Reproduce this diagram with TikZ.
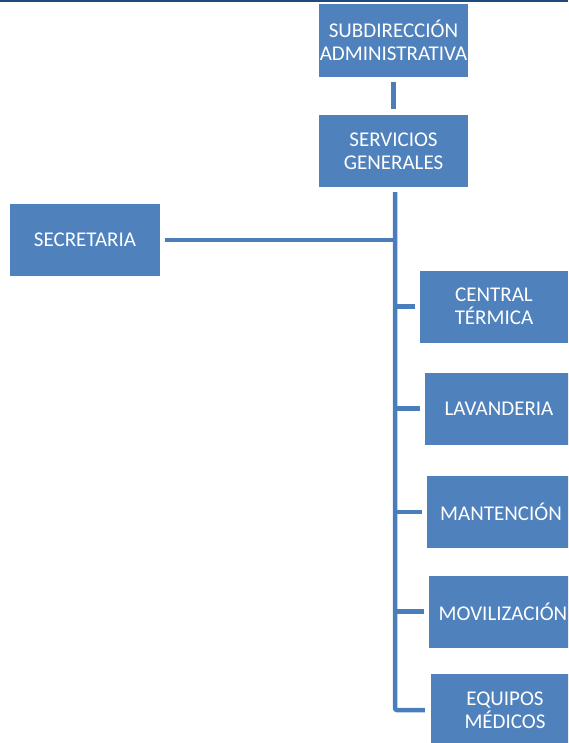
\documentclass[tikz,border=0pt]{standalone}
\usepackage{fontspec}
\setmainfont{Carlito}
\usepackage{tikz}
\usetikzlibrary{positioning,calc}
\definecolor{boxblue}{HTML}{4F81BD}
\definecolor{lineblue}{HTML}{4A7EBB}
\definecolor{topbar}{HTML}{1F4A7C}

\begin{document}
\begin{tikzpicture}[x=1pt,y=-1pt,
  unit/.style={fill=boxblue,draw=none,text=white,align=center,inner sep=0pt,
    minimum width=148pt,minimum height=72pt,
    font=\fontsize{21}{23}\selectfont},
  link/.style={draw=lineblue,line width=4.5pt}]
\useasboundingbox (0,0) rectangle (568,743);
\clip (0,0) rectangle (568,743);
\fill[topbar] (0,0) rectangle (568,2.5);
% boxes
\node[unit,minimum width=149pt,minimum height=73pt] (subdir) at (393.5,40.5) {SUBDIRECCIÓN\\ADMINISTRATIVA};
\node[unit,minimum width=149pt] (serv) at (393.5,151) {SERVICIOS\\GENERALES};
\node[unit,minimum width=150pt] (secre) at (85,240) {SECRETARIA};
\node[unit] (central) at (494,306.5) {CENTRAL\\TÉRMICA};
\node[unit] (lava) at (499,408.5) {LAVANDERIA};
\node[unit] (mant) at (501,512) {MANTENCIÓN};
\node[unit] (movil) at (503,611.5) {MOVILIZACIÓN};
\node[unit] (equipos) at (505,710) {EQUIPOS\\MÉDICOS};
% connectors
\draw[link,line cap=butt] ([yshift=-5pt]subdir.south) -- ([yshift=6pt]serv.north);
\coordinate (trunk) at ([xshift=1.5pt,yshift=-5pt]serv.south);
\draw[link,rounded corners=2pt] (trunk) |- ([xshift=-6pt]equipos.west);
\draw[link] (trunk |- secre.east) -- ([xshift=5pt]secre.east);
\draw[link] (trunk |- central.west) -- ([xshift=-5pt]central.west);
\draw[link] (trunk |- lava.west) -- ([xshift=-5pt]lava.west);
\draw[link] (trunk |- mant.west) -- ([xshift=-5pt]mant.west);
\draw[link] (trunk |- movil.west) -- ([xshift=-5pt]movil.west);
\end{tikzpicture}
\end{document}
